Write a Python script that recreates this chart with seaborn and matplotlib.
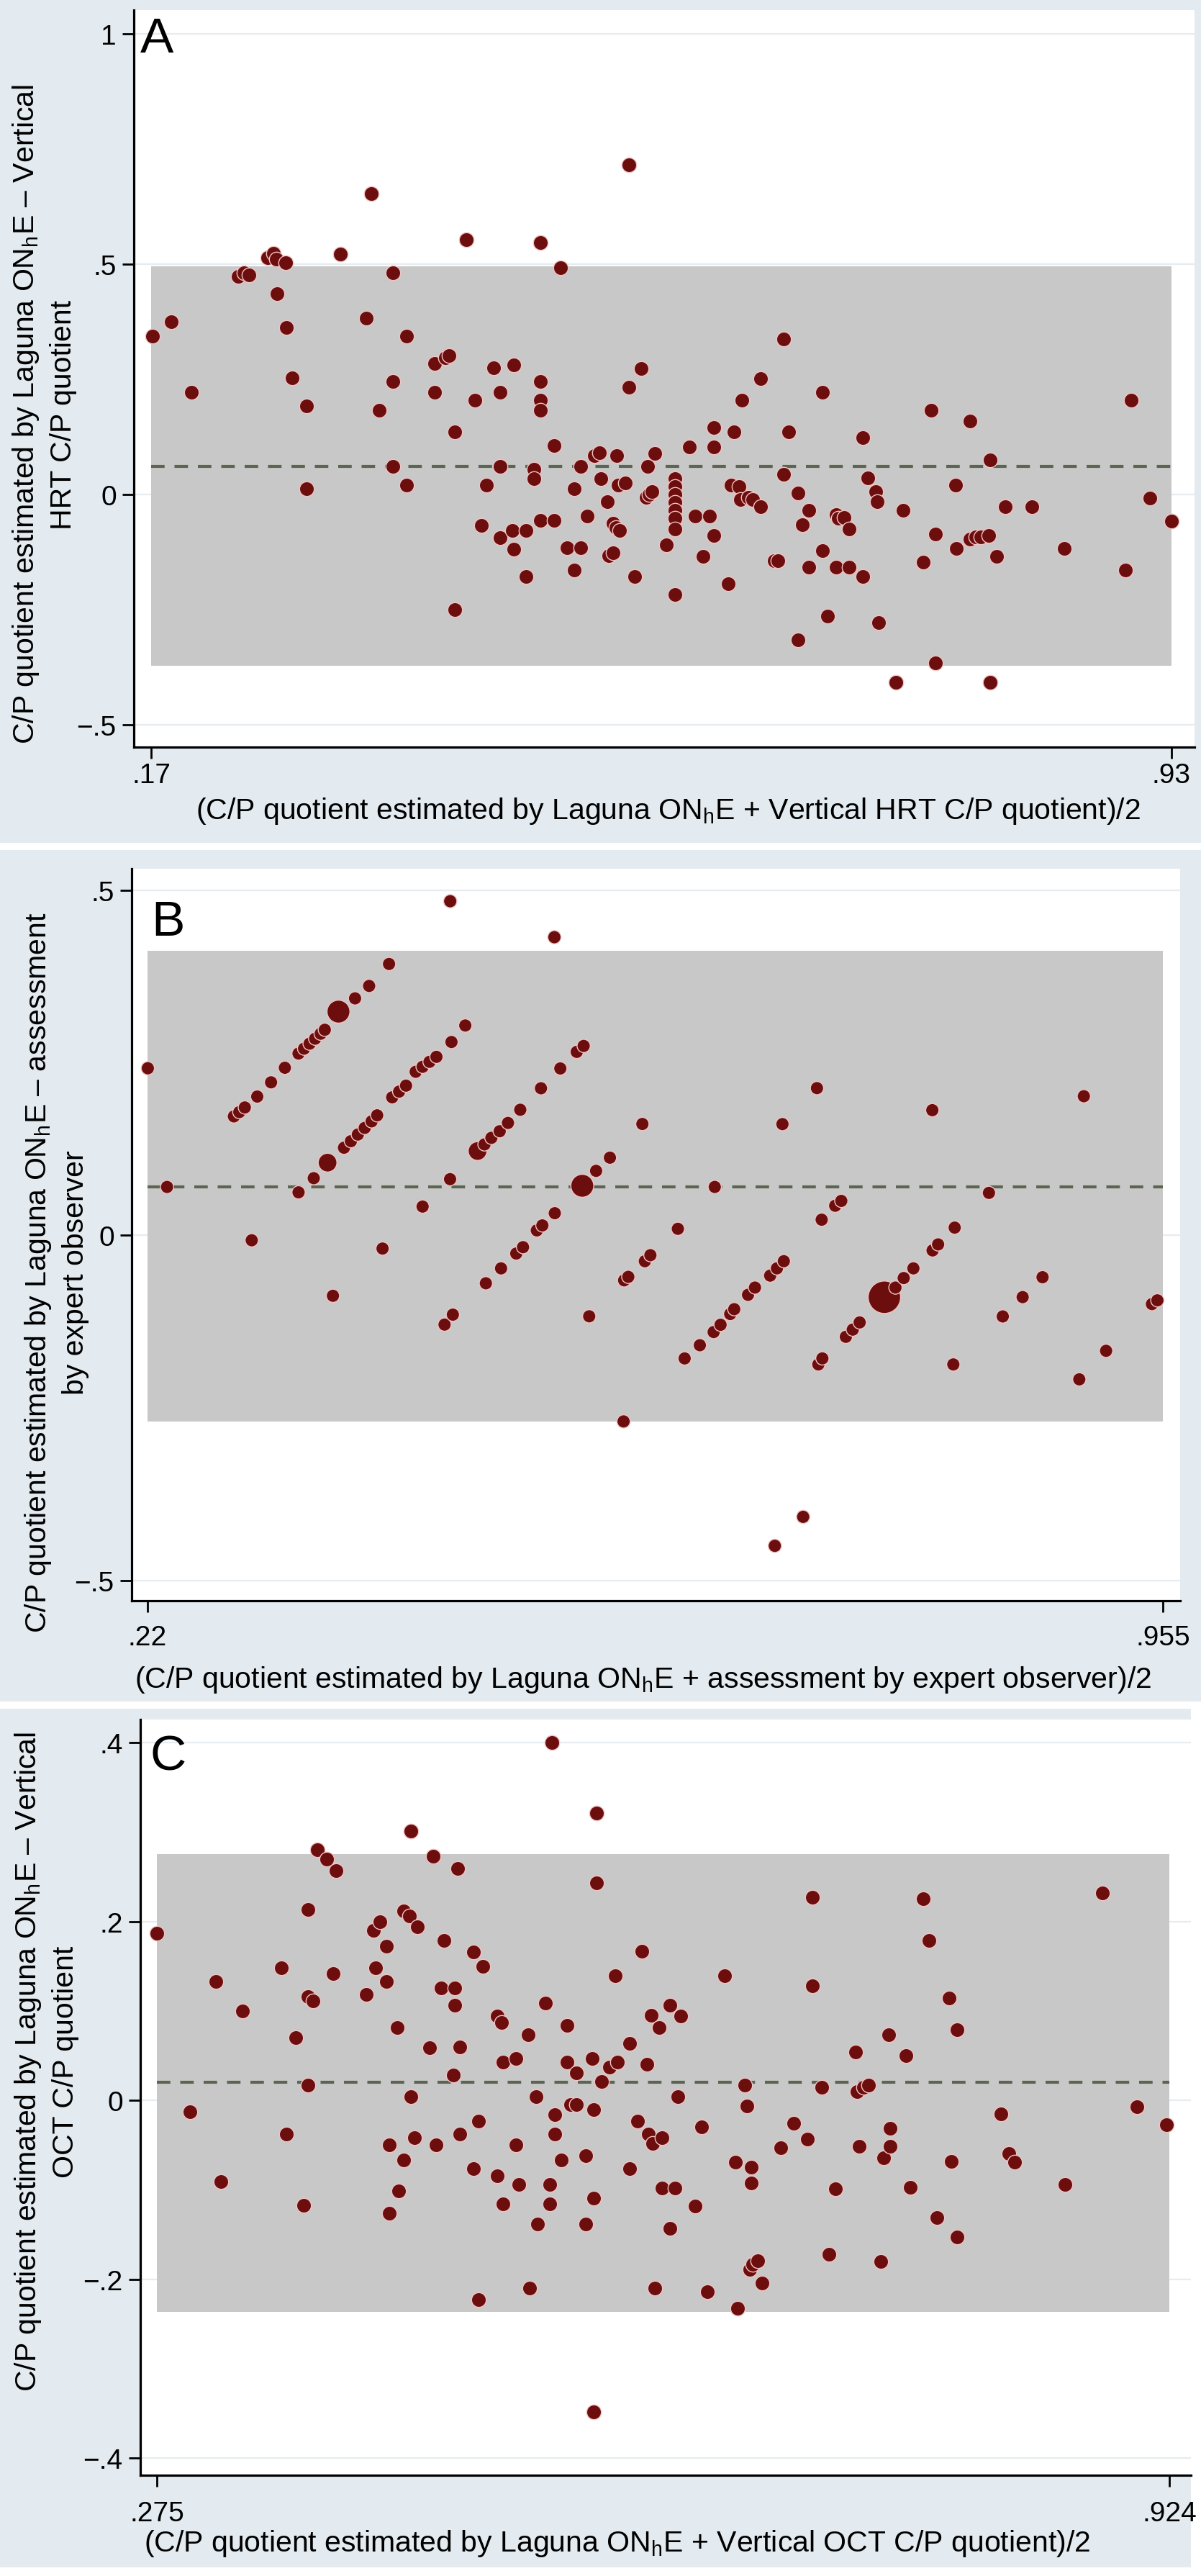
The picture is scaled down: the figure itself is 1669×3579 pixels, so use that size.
import numpy as np
import matplotlib
matplotlib.use("Agg")
import matplotlib.pyplot as plt
from matplotlib.patches import Rectangle
import seaborn as sns

# ---- panel A : Laguna ONhE vs vertical HRT (mean, difference) ----
a_pts = [
    (.171, .344), (.185, .375), (.200, .222),
    (.235, .474), (.239, .481), (.243, .476),
    (.257, .515), (.261, .523), (.263, .511),
    (.270, .503), (.264, .436), (.271, .362), (.275, .253), (.286, .192), (.286, .013),
    (.311, .522), (.330, .383), (.334, .653), (.340, .183), (.350, .482), (.350, .245),
    (.350, .061), (.360, .021), (.360, .344),
    (.381, .222), (.381, .284), (.389, .297), (.392, .302),
    (.396, .136), (.396, -.249), (.405, .553), (.411, .205), (.416, -.067), (.420, .021),
    (.425, .276), (.430, .222), (.430, .061), (.430, -.094),
    (.439, -.078), (.440, -.118), (.449, -.078), (.440, .282), (.449, -.178), (.455, .055), (.455, .034),
    (.460, .547), (.460, .245), (.460, .205), (.460, .183), (.460, -.056), (.470, -.056),
    (.470, .106), (.475, .492),
    (.480, -.116), (.490, -.116), (.485, -.164), (.485, .013), (.490, .061), (.495, -.046),
    (.500, .085), (.504, .091), (.505, .034), (.510, -.015), (.514, -.062), (.516, -.072), (.519, -.078),
    (.511, -.132), (.514, -.126), (.517, .084), (.518, .020), (.523, .025),
    (.526, .716), (.526, .233), (.535, .274), (.530, -.178), (.539, -.006), (.541, 0.0), (.543, .006),
    (.540, .061), (.545, .090), (.554, -.109),
    (.560, .034), (.560, .017), (.560, 0.0), (.560, -.017), (.560, -.034), (.560, -.052), (.560, -.075),
    (.560, -.217),
    (.571, .103), (.575, -.046), (.586, -.046), (.581, -.134), (.589, .146), (.589, .103), (.589, -.089),
    (.600, -.194), (.604, .136), (.610, .205), (.602, .021), (.608, .017), (.609, -.011), (.615, -.006),
    (.618, -.011),
    (.624, .252), (.624, -.026), (.634, -.144), (.637, -.144), (.641, .337), (.641, .044), (.645, .136),
    (.652, .003), (.652, -.316), (.655, -.066), (.660, -.034), (.660, -.157),
    (.670, .222), (.670, -.121), (.674, -.264), (.680, -.043), (.682, -.052), (.686, -.050), (.680, -.157),
    (.690, -.075), (.690, -.157),
    (.700, .123), (.700, -.178), (.704, .037), (.710, .006), (.711, -.015), (.712, -.277), (.725, -.408),
    (.730, -.034), (.745, -.147), (.751, .183), (.754, -.086), (.754, -.366),
    (.769, .021), (.770, -.117), (.780, .160), (.780, -.096), (.784, -.092), (.788, -.092), (.794, -.089),
    (.795, .075), (.795, -.408), (.800, -.134), (.806, -.026), (.826, -.026), (.850, -.117), (.896, -.164),
    (.900, .205), (.914, -.008), (.930, -.057),
]
a_bias = 0.061
a_loa = [-0.371, 0.495]
a_xticks = [0.17, 0.93]
a_xticklabels = [".17", ".93"]
a_yticks = [-0.5, 0, 0.5, 1]
a_yticklabels = ["\u2212.5", "0", ".5", "1"]

# ---- panel B : Laguna ONhE vs expert observer (mean, difference, weight) ----
b_pts = [
    # isolated
    (.2202, .2421, 1), (.2341, .0702, 1), (.2954, -.0070, 1), (.3542, -.0874, 1), (.3901, -.0190, 1),
    (.4191, .0418, 1), (.4390, .0815, 1), (.4391, .4840, 1), (.4350, -.1291, 1), (.4410, -.1147, 1),
    (.5145, .4319, 1), (.5397, -.1171, 1), (.5646, -.2693, 1), (.5782, .1614, 1), (.6039, .0096, 1),
    (.6306, .0702, 1), (.6741, -.4495, 1), (.6946, -.4075, 1), (.6796, .1612, 1), (.7046, .2133, 1),
    (.8033, -.1868, 1), (.7881, .1814, 1), (.8291, .0616, 1), (.8391, -.1173, 1), (.8535, -.0893, 1),
    (.8679, -.0605, 1), (.8945, -.2084, 1), (.8978, .2016, 1), (.9139, -.1671, 1), (.9471, -.0994, 1),
    (.9510, -.0940, 1),
    # expert = .1 steps, diagonal runs
    (.2825, .1724, 1), (.2864, .1786, 1), (.2904, .1853, 1), (.2994, .2011, 1), (.3094, .2217, 1),
    (.3194, .2428, 1), (.3293, .2634, 1), (.3333, .2705, 1), (.3373, .2777, 1), (.3413, .2849, 1),
    (.3453, .2921, 1), (.3483, .2978, 1), (.3582, .3241, 3), (.3702, .3433, 1), (.3804, .3613, 1),
    (.3948, .3931, 1),
    (.3293, .0624, 1), (.3403, .0829, 1), (.3503, .1054, 2), (.3622, .1270, 1), (.3672, .1365, 1),
    (.3722, .1461, 1), (.3772, .1557, 1), (.3822, .1652, 1), (.3862, .1739, 1), (.3971, .2000, 1),
    (.4021, .2083, 1), (.4071, .2169, 1), (.4141, .2370, 1), (.4191, .2442, 1), (.4241, .2514, 1),
    (.4291, .2586, 1), (.4400, .2801, 1), (.4500, .3040, 1),
    (.4589, .1222, 2), (.4639, .1318, 1), (.4689, .1413, 1), (.4749, .1509, 1), (.4809, .1629, 1),
    (.4898, .1820, 1), (.5048, .2131, 1), (.5188, .2418, 1), (.5307, .2658, 1), (.5357, .2744, 1),
    (.4649, -.0693, 1), (.4759, -.0477, 1), (.4869, -.0262, 1), (.4918, -.0170, 1), (.5018, .0073, 1),
    (.5058, .0145, 1), (.5148, .0322, 1), (.5347, .0719, 3), (.5447, .0935, 1), (.5547, .1126, 1),
    (.5650, -.0650, 1), (.5680, -.0600, 1), (.5800, -.0373, 1), (.5840, -.0286, 1),
    (.7080, .0228, 1), (.7178, .0430, 1), (.7222, .0500, 1),
    (.6088, -.1781, 1), (.6198, -.1590, 1), (.6298, -.1399, 1), (.6348, -.1294, 1), (.6418, -.1138, 1),
    (.6447, -.1068, 1), (.6547, -.0860, 1), (.6597, -.0755, 1), (.6707, -.0582, 1), (.6756, -.0477, 1),
    (.6806, -.0373, 1),
    (.7056, -.1868, 1), (.7085, -.1781, 1), (.7255, -.1468, 1), (.7305, -.1364, 1), (.7355, -.1260, 1),
    (.7534, -.0895, 6), (.7614, -.0755, 1), (.7674, -.0617, 1), (.7744, -.0477, 1), (.7883, -.0217, 1),
    (.7923, -.0130, 1), (.8043, .0113, 1),
]
b_bias = 0.070
b_loa = [-0.269, 0.412]
b_xticks = [0.22, 0.955]
b_xticklabels = [".22", ".955"]
b_yticks = [-0.5, 0, 0.5]
b_yticklabels = ["\u2212.5", "0", ".5"]

# ---- panel C : Laguna ONhE vs vertical OCT ----
c_pts = [
    (.275, .187), (.296, -.013), (.313, .133), (.316, -.091), (.330, .100), (.355, .148), (.358, -.038),
    (.364, .070), (.369, -.117), (.372, .213), (.372, .116), (.375, .111), (.372, .017), (.378, .280),
    (.384, .270), (.390, .257), (.388, .142),
    (.409, .118), (.414, .190), (.418, .200), (.415, .148), (.422, .172), (.422, .133), (.424, -.050),
    (.424, -.126), (.429, .081), (.430, -.101), (.433, -.067), (.433, .212), (.437, .206), (.442, .194),
    (.438, .301), (.438, .004), (.440, -.042),
    (.450, .059), (.452, .273), (.454, -.050), (.459, .179), (.457, .126), (.466, .126), (.465, .028),
    (.466, .106), (.468, .259), (.469, .060), (.469, -.038), (.478, .166), (.478, -.076), (.481, -.023),
    (.484, .150), (.481, -.223),
    (.493, .094), (.496, .087), (.493, -.084), (.497, .043), (.505, .047), (.497, -.116), (.505, -.050),
    (.507, -.094), (.513, .073), (.514, -.210), (.518, .004), (.519, -.138), (.524, .109), (.527, -.094),
    (.527, -.116), (.528, .400),
    (.530, -.016), (.530, -.038), (.534, -.067), (.538, .084), (.538, .043), (.540, -.005), (.544, -.005),
    (.544, .031), (.550, -.062), (.550, -.138), (.554, .047), (.555, -.010), (.555, -.109), (.555, -.348),
    (.557, .321), (.557, .243),
    (.560, .021), (.565, .037), (.570, .043), (.569, .139), (.578, .064), (.578, -.076), (.583, -.023),
    (.586, .167), (.589, .040), (.590, -.038), (.593, -.048), (.599, -.042), (.594, -.210), (.592, .095),
    (.597, .081), (.604, .106), (.611, .094),
    (.599, -.098), (.607, -.098), (.604, -.143), (.609, .004), (.620, -.118), (.624, -.030), (.628, -.214),
    (.639, .139), (.646, -.069), (.647, -.232), (.652, .017), (.653, -.006), (.656, -.075), (.656, -.092),
    (.655, -.189), (.657, -.183), (.660, -.179), (.663, -.204),
    (.675, -.053), (.683, -.026), (.692, -.043), (.695, .227), (.695, .128), (.701, .015), (.706, -.172),
    (.710, -.099), (.723, .054), (.724, .010), (.728, .015), (.731, .017), (.725, -.051), (.739, -.180),
    (.741, -.064), (.744, .073), (.745, -.031), (.745, -.051),
    (.755, .050), (.758, -.097), (.766, .225), (.770, .179), (.775, -.131), (.783, .114), (.784, -.068),
    (.788, .079), (.788, -.153), (.816, -.015), (.821, -.059), (.825, -.069), (.857, -.094), (.881, .232),
    (.903, -.007), (.922, -.027),
]
c_bias = 0.020
c_loa = [-0.236, 0.275]
c_xticks = [0.275, 0.924]
c_xticklabels = [".275", ".924"]
c_yticks = [-0.4, -0.2, 0, 0.2, 0.4]
c_yticklabels = ["\u2212.4", "\u2212.2", "0", ".2", ".4"]

ONHE = r"ON$_{\mathregular{h}}$E"
a_ylabel = "C/P quotient estimated by Laguna " + ONHE + " \u2013 Vertical\nHRT C/P quotient"
a_xlabel = "(C/P quotient estimated by Laguna " + ONHE + " + Vertical HRT C/P quotient)/2"
b_ylabel = "C/P quotient estimated by Laguna " + ONHE + " \u2013 assessment\nby expert observer"
b_xlabel = "(C/P quotient estimated by Laguna " + ONHE + " + assessment by expert observer)/2"
c_ylabel = "C/P quotient estimated by Laguna " + ONHE + " \u2013 Vertical\nOCT C/P quotient"
c_xlabel = "(C/P quotient estimated by Laguna " + ONHE + " + Vertical OCT C/P quotient)/2"

sns.set_theme(style="white")
plt.rcParams["font.family"] = ["Liberation Sans", "DejaVu Sans"]
plt.rcParams["mathtext.fontset"] = "custom"
plt.rcParams["mathtext.rm"] = "Liberation Sans"

W, H = 1669, 3580
BG = "#e3ebf0"
SHADE = "#c8c8c8"
DOT = "#6d0e0e"
HALO = "#f0c4c4"
MEANCOL = "#5b6650"

fig = plt.figure(figsize=(W / 100, H / 100), dpi=100, facecolor="white")


def px(x, y):
    return x / W, 1 - y / H


def panel_bg(top, bottom, right):
    fig.patches.append(Rectangle((0, 1 - bottom / H), right / W, (bottom - top) / H,
                                 transform=fig.transFigure, facecolor=BG, edgecolor="none", zorder=-10))


def make_panel(box, xlim, ylim, pts, bias, loa, xticks, xtl, yticks, ytl, xpad, weighted=False):
    l, t, r, b = box
    ax = fig.add_axes([l / W, 1 - b / H, (r - l) / W, (b - t) / H])
    ax.set_facecolor("white")
    ax.set_xlim(*xlim)
    ax.set_ylim(*ylim)
    for yv in yticks:
        ax.axhline(yv, color="#e6ecef", lw=1.6, zorder=0.5)
    ax.fill_between(xticks, loa[0], loa[1], color=SHADE, lw=0, zorder=1)
    ax.plot(xticks, [bias, bias], color=MEANCOL, lw=3, dashes=(4.5, 3.3), zorder=2)
    arr = np.array(pts)
    if weighted:
        sns.scatterplot(x=arr[:, 0], y=arr[:, 1], size=arr[:, 2], sizes=(175, 1050), size_norm=(1, 6),
                        color=DOT, edgecolor=HALO, linewidth=1.0, legend=False, ax=ax, zorder=3)
    else:
        sns.scatterplot(x=arr[:, 0], y=arr[:, 1], s=215, color=DOT, edgecolor=HALO, linewidth=1.0,
                        ax=ax, zorder=3)
    ax.set_xticks(xticks)
    ax.set_xticklabels(xtl)
    ax.set_yticks(yticks)
    ax.set_yticklabels(ytl)
    ax.tick_params(axis="both", direction="out", length=11.5, width=2, color="black",
                   labelsize=28, labelcolor="black", bottom=True, left=True)
    ax.tick_params(axis="x", pad=xpad)
    ax.tick_params(axis="y", pad=6)
    for side in ["top", "right"]:
        ax.spines[side].set_visible(False)
    for side in ["left", "bottom"]:
        ax.spines[side].set_color("black")
        ax.spines[side].set_linewidth(2.3)
    ax.set_xlabel("")
    ax.set_ylabel("")
    return ax


panel_bg(0, 1172, 1669)
panel_bg(1182, 2365, 1669)
panel_bg(2375, 3568, 1655)

make_panel((186, 15, 1660, 1039), (.1571, .9472), (-.548, 1.0516), a_pts, a_bias, a_loa,
           a_xticks, a_xticklabels, a_yticks, a_yticklabels, xpad=3.5)
make_panel((183, 1208, 1640, 2225), (.2085, .9675), (-.529, .531), b_pts, b_bias, b_loa,
           b_xticks, b_xticklabels, b_yticks, b_yticklabels, xpad=12, weighted=True)
make_panel((195, 2390, 1655, 3440), (.2644, .9378), (-.419, .4257), c_pts, c_bias, c_loa,
           c_xticks, c_xticklabels, c_yticks, c_yticklabels, xpad=14)

# axis titles and panel letters
for (x, y), txt in [((928, 1138), a_xlabel), ((894, 2345), b_xlabel), ((858, 3545), c_xlabel)]:
    fig.text(*px(x, y), txt, ha="center", va="baseline", fontsize=29.5, color="black")
for (x, y), txt in [((61, 576), a_ylabel), ((78, 1768), b_ylabel), ((64, 2865), c_ylabel)]:
    fig.text(*px(x, y), txt, ha="center", va="center", rotation=90, fontsize=29.5,
             multialignment="center", linespacing=1.38, color="black")
for (x, y), txt in [((195, 73), "A"), ((210, 1300), "B"), ((208, 2460), "C")]:
    fig.text(*px(x, y), txt, ha="left", va="baseline", fontsize=50, color="black")

fig.savefig("out.png", dpi=100, facecolor=fig.get_facecolor())
